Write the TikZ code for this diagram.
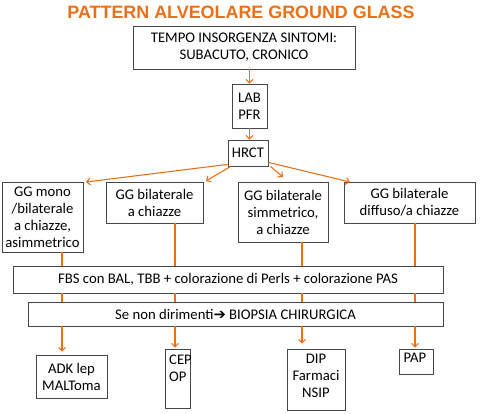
\documentclass[tikz,border=0pt]{standalone}
\usepackage{fontspec}
\setmainfont{Carlito}
\newfontfamily\titlefont{Liberation Sans}
\newfontfamily\dv{DejaVu Sans}
\usetikzlibrary{arrows.meta}
\definecolor{orng}{RGB}{233,112,24}
\definecolor{bordr}{RGB}{70,70,70}
\begin{document}
\begin{tikzpicture}[x=1pt,y=-1pt,
  box/.style={draw=bordr,line width=0.8pt,inner sep=0pt,align=center,
    font=\fontsize{14.7}{17}\selectfont},
  lbl/.style={inner sep=0pt,align=center,font=\fontsize{14.7}{17}\selectfont},
  conn/.style={draw=orng,line width=1.1pt},
  arr/.style={conn,-{Straight Barb[length=3.5pt,width=7pt,line width=1.1pt]}}]
\useasboundingbox (0,0) rectangle (482,413);
\node[font=\titlefont\bfseries\fontsize{17.9}{20}\selectfont,text=orng,inner sep=0pt] (title) at (241,12) {PATTERN ALVEOLARE GROUND GLASS};
\node[box,minimum width=222pt,minimum height=43pt] (tempo) at (244,47.5) {TEMPO INSORGENZA SINTOMI:\\SUBACUTO, CRONICO};
\node[box,minimum width=35pt,minimum height=44pt] (lab) at (249.5,106) {LAB\\PFR};
\node[box,minimum width=40pt,minimum height=26pt] (hrct) at (248,153) {HRCT};
\node[box,minimum width=81pt,minimum height=70pt] (A) at (42.5,217) {GG mono\\/bilaterale\\a chiazze,\\asimmetrico};
\node[box,minimum width=97pt,minimum height=41pt] (B) at (154.5,202.5) {GG bilaterale\\a chiazze};
\node[box,minimum width=90pt,minimum height=60pt] (C) at (283,212) {GG bilaterale\\simmetrico,\\a chiazze};
\node[box,minimum width=131pt,minimum height=41pt] (D) at (409.5,202.5) {GG bilaterale\\diffuso/a chiazze};
\node[box,minimum width=430pt,minimum height=27pt] (fbs) at (228,279.5) {FBS con BAL, TBB + colorazione di Perls + colorazione PAS};
\node[box,minimum width=415pt,minimum height=24pt] (bio) at (235.5,314) {Se non dirimenti{\dv\bfseries ➔} BIOPSIA CHIRURGICA};
\node[box,minimum width=71pt,minimum height=43pt] (adk) at (71.5,376.5) {ADK lep\\MALToma};
\node[box,minimum width=25pt,minimum height=59pt] (cep) at (177.5,378.5) {};
\node[lbl,anchor=north west,align=left] (ceptext) at (169,355) {CEP\\OP};
\node[box,minimum width=58pt,minimum height=61pt] (dip) at (316,379.5) {};
\node[lbl,anchor=north] (diptext) at (316,353.5) {DIP\\Farmaci\\NSIP};
\node[box,minimum width=34pt,minimum height=25pt] (pap) at (416,361.5) {};
\node[lbl,anchor=north] (paptext) at (415,353) {PAP};
% column x positions
\coordinate (c1) at (62,0);
\coordinate (c2) at (175,0);
\coordinate (c3) at (302,0);
\coordinate (c4) at (415,0);
% top chain
\draw[arr] (tempo.south -| lab) -- (lab.north);
\draw[arr] (lab.south) -- (hrct.north -| lab);
% hrct fan
\coordinate (t1) at (86,182);
\coordinate (t2) at (206,181);
\coordinate (t3) at (283,177);
\coordinate (t4) at (350,182);
\draw[arr] (hrct.south west) ++(0,-2) -- (t1);
\draw[arr] (hrct.south west) ++(3,0) -- (t2);
\draw[arr] (hrct.south east) ++(2,0) -- (t3);
\draw[arr] (hrct.south east) ++(0,-4) -- (t4);
% columns
\foreach \c/\src/\dst/\gap in {c1/A/adk/3, c2/B/cep/1, c3/C/dip/5, c4/D/pap/1}{
  \draw[conn] (\src.south -| \c) -- (fbs.north -| \c);
  \draw[conn] (fbs.south -| \c) -- (bio.north -| \c);
  \draw[arr,shorten >=\gap pt] (bio.south -| \c) -- (\dst.north -| \c);
}
\end{tikzpicture}
\end{document}
